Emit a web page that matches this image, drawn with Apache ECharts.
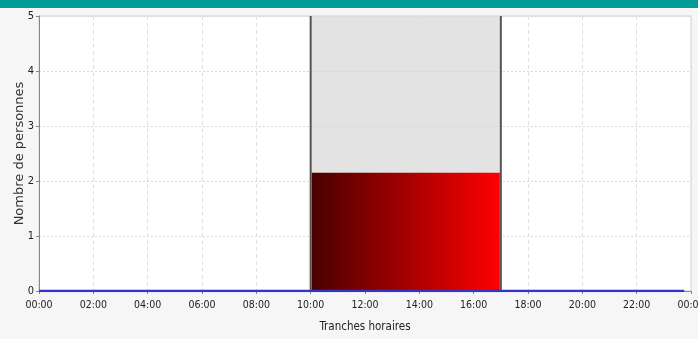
<!DOCTYPE html>
<html>
<head>
<meta charset="utf-8">
<script src="https://cdn.jsdelivr.net/npm/echarts@6/dist/echarts.min.js"></script>
<style>
  html, body { margin: 0; padding: 0; background: #f6f6f6; }
  #chart { width: 698px; height: 339px; }
</style>
</head>
<body>
<div id="chart"></div>
<script>
// tranches horaires (heures)
const tickLabels = ['00:00', '02:00', '04:00', '06:00', '08:00', '10:00', '12:00',
  '14:00', '16:00', '18:00', '20:00', '22:00', '00:00'];

// créneau occupé : début, fin, nombre de personnes
const slotStart = [10];
const slotEnd = [17];
const slotCount = [2.15];

// courbe de présence (bleue)
const lineHours = [0, 23.75];
const lineValues = [0, 0];

const narrow = "'Liberation Sans Narrow', 'Arial Narrow', 'DejaVu Sans Condensed', sans-serif";

const chart = echarts.init(document.getElementById('chart'));

const slotData = slotStart.map((s, i) => [s, slotEnd[i], slotCount[i]]);

const option = {
  animation: false,
  backgroundColor: '#f6f6f6',
  graphic: [{
    type: 'rect',
    left: 0, top: 0,
    shape: { width: 698, height: 8 },
    style: { fill: '#009b96' }
  }],
  grid: {
    left: 39, right: 7, top: 16, bottom: 48,
    outerBoundsMode: 'none',
    containLabel: false,
    show: true,
    z: -5,
    backgroundColor: '#fff',
    borderColor: '#d0d0d0',
    borderWidth: 1
  },
  xAxis: {
    type: 'value',
    min: 0, max: 24, interval: 2,
    name: 'Tranches horaires',
    nameLocation: 'middle',
    nameGap: 30,
    nameTextStyle: { fontFamily: narrow, fontSize: 11.5, color: '#222' },
    axisLine: { lineStyle: { color: '#888' } },
    axisTick: { show: true, length: 3, lineStyle: { color: '#888' } },
    axisLabel: {
      fontFamily: narrow, fontSize: 10.5, color: '#222', margin: 9,
      formatter: v => tickLabels[Math.round(v / 2)]
    },
    splitLine: { show: true, lineStyle: { color: '#e0e0e0', type: [4, 3] } }
  },
  yAxis: {
    type: 'value',
    min: 0, max: 5, interval: 1,
    name: 'Nombre de personnes',
    nameLocation: 'middle',
    nameGap: 13,
    nameMoveOverlap: false,
    nameTextStyle: { fontFamily: "'DejaVu Sans', sans-serif", fontSize: 13, color: '#333' },
    axisLine: { show: true, lineStyle: { color: '#888' } },
    axisTick: { show: true, length: 3, lineStyle: { color: '#888' } },
    axisLabel: { fontFamily: narrow, fontSize: 11, color: '#222', margin: 5 },
    splitLine: { show: true, lineStyle: { color: '#d8d8d8', type: [2, 2] } }
  },
  series: [
    {
      // bande grise du créneau
      type: 'custom',
      z: -1,
      silent: true,
      data: slotData,
      encode: { x: [0, 1], y: 2 },
      renderItem: function (params, api) {
        const a = api.coord([api.value(0), 0]);
        const b = api.coord([api.value(1), 5]);
        return {
          type: 'rect',
          shape: { x: a[0], y: b[1], width: b[0] - a[0], height: a[1] - b[1] },
          style: { fill: '#e3e3e3' }
        };
      }
    },
    {
      // barre rouge en dégradé + bords du créneau
      type: 'custom',
      z: 2,
      silent: true,
      data: slotData,
      encode: { x: [0, 1], y: 2 },
      renderItem: function (params, api) {
        const a = api.coord([api.value(0), 0]);
        const b = api.coord([api.value(1), api.value(2)]);
        const top = api.coord([0, 5])[1];
        return {
          type: 'group',
          children: [
            {
              type: 'rect',
              shape: { x: a[0] + 1, y: b[1], width: b[0] - a[0] - 2, height: a[1] - b[1] },
              style: {
                fill: new echarts.graphic.LinearGradient(0, 0, 1, 0, [
                  { offset: 0, color: '#4a0000' },
                  { offset: 1, color: '#ff0000' }
                ])
              }
            },
            { type: 'line', shape: { x1: a[0], y1: top, x2: a[0], y2: a[1] },
              style: { stroke: '#555', lineWidth: 2 } },
            { type: 'line', shape: { x1: b[0], y1: top, x2: b[0], y2: a[1] },
              style: { stroke: '#555', lineWidth: 2 } }
          ]
        };
      }
    },
    {
      type: 'line',
      z: 3,
      symbol: 'none',
      data: lineHours.map((h, i) => [h, lineValues[i]]),
      lineStyle: { color: '#3434c8', width: 2.5 }
    }
  ]
};

chart.setOption(option);
</script>
</body>
</html>
